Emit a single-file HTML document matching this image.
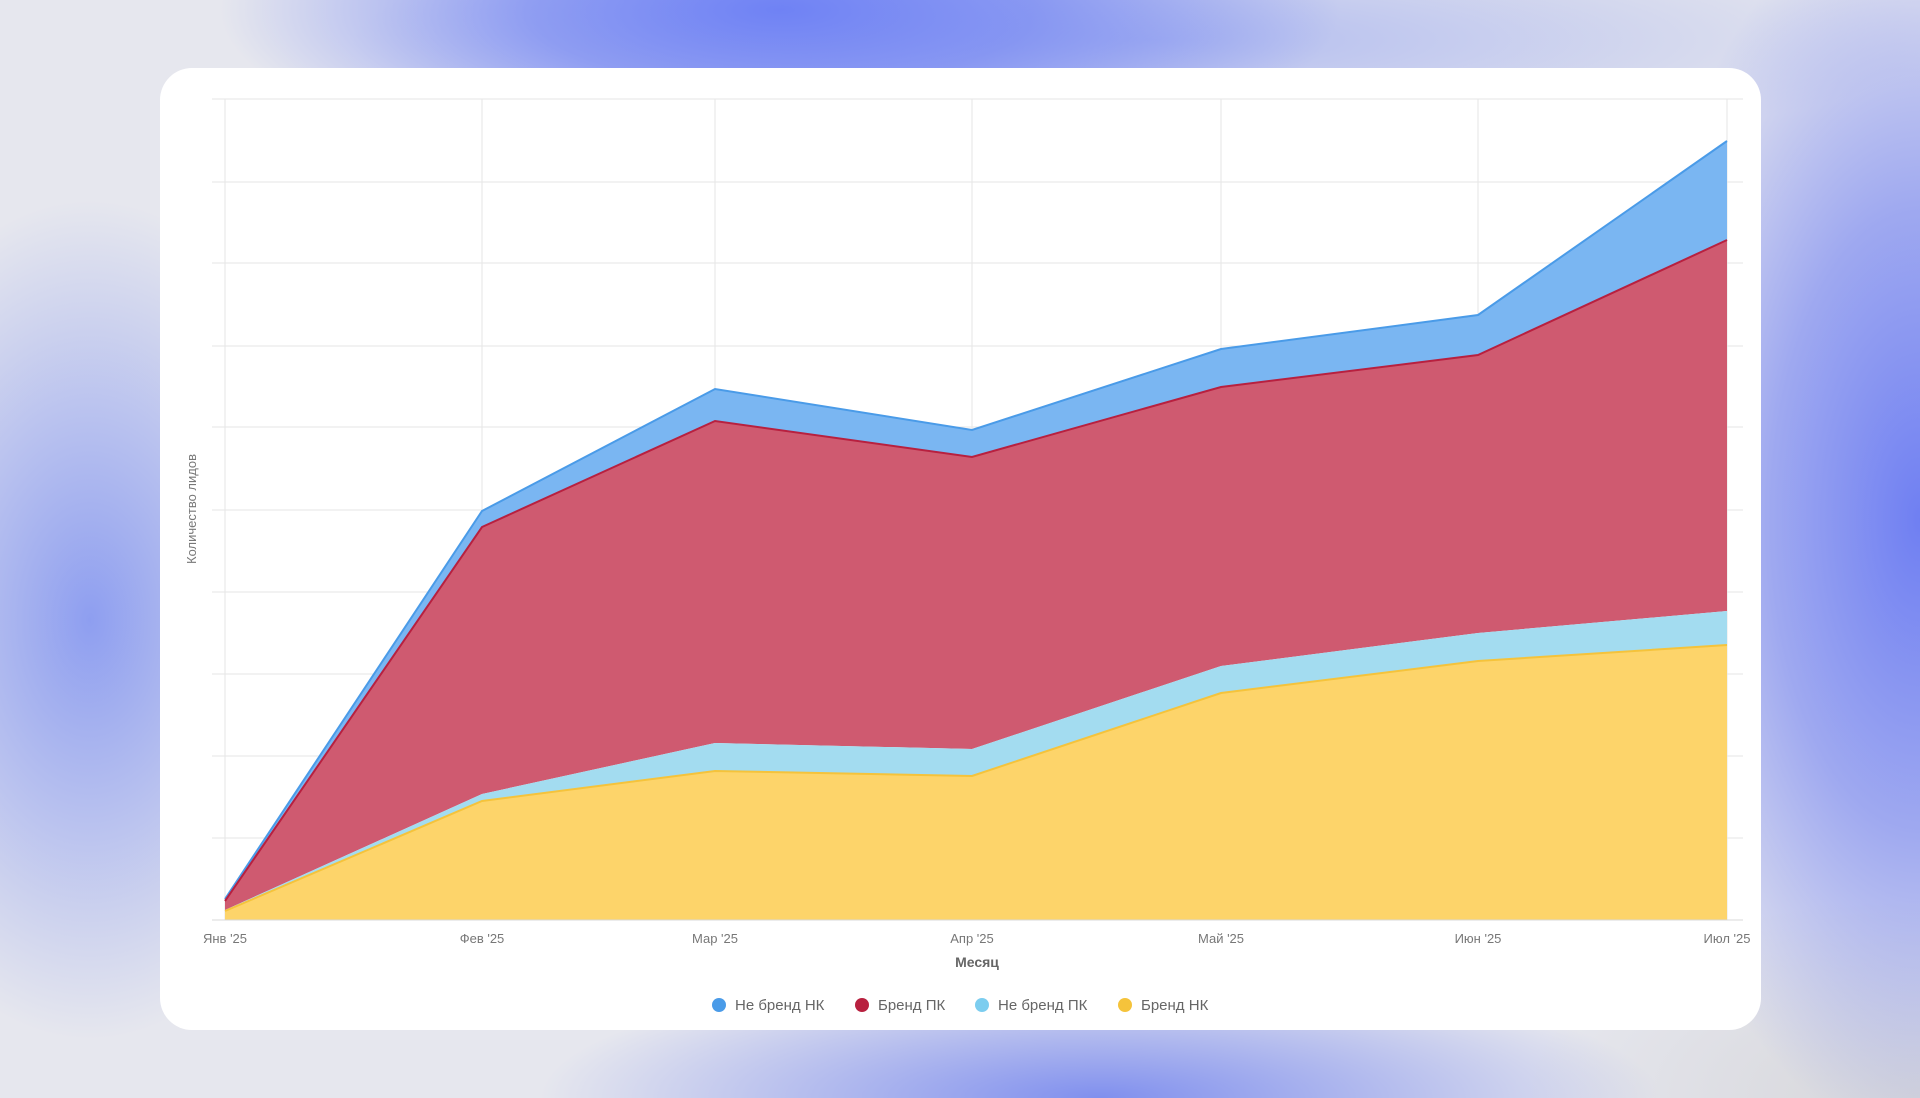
<!DOCTYPE html>
<html><head><meta charset="utf-8"><style>
html,body{margin:0;padding:0;width:1920px;height:1098px;overflow:hidden;}
body{background:#e6e7ee;position:relative;font-family:"Liberation Sans","DejaVu Sans",sans-serif;}
.bg{position:absolute;inset:0;
background:
radial-gradient(ellipse 560px 170px at 780px 10px,#6f82f4 0%,rgba(111,130,244,0.7) 45%,rgba(111,130,244,0) 100%),
radial-gradient(ellipse 300px 620px at 1920px 520px,#6f7ff2 0%,rgba(111,127,242,0.6) 50%,rgba(111,127,242,0) 100%),
radial-gradient(ellipse 260px 420px at 90px 620px,rgba(120,140,240,0.8) 0%,rgba(120,140,240,0) 100%),
radial-gradient(ellipse 560px 130px at 1100px 1098px,rgba(110,128,238,0.85) 0%,rgba(110,128,238,0) 100%),
radial-gradient(ellipse 800px 120px at 1150px 40px,rgba(150,165,240,0.65) 0%,rgba(150,165,240,0) 100%),
radial-gradient(ellipse 400px 200px at 1920px 1098px,#d6d6da 0%,rgba(214,214,218,0) 100%),
#e6e7ee;}
.card{position:absolute;left:160px;top:68px;width:1601px;height:962px;background:#fff;border-radius:32px;}
svg{position:absolute;left:0;top:0;}
</style></head><body>
<div class="bg"></div>
<div class="card"></div>
<svg width="1920" height="1098" viewBox="0 0 1920 1098">
<g stroke="#e6e6e6" stroke-width="1">
<line x1="212" x2="1743" y1="99" y2="99"/><line x1="212" x2="1743" y1="182" y2="182"/>
<line x1="212" x2="1743" y1="263" y2="263"/><line x1="212" x2="1743" y1="346" y2="346"/>
<line x1="212" x2="1743" y1="427" y2="427"/><line x1="212" x2="1743" y1="510" y2="510"/>
<line x1="212" x2="1743" y1="592" y2="592"/><line x1="212" x2="1743" y1="674" y2="674"/>
<line x1="212" x2="1743" y1="756" y2="756"/><line x1="212" x2="1743" y1="838" y2="838"/>
<line x1="225" x2="225" y1="99" y2="920"/><line x1="482" x2="482" y1="99" y2="920"/>
<line x1="715" x2="715" y1="99" y2="920"/><line x1="972" x2="972" y1="99" y2="920"/>
<line x1="1221" x2="1221" y1="99" y2="920"/><line x1="1478" x2="1478" y1="99" y2="920"/>
<line x1="1727" x2="1727" y1="99" y2="920"/>
</g>
<polygon fill="#7ab6f2" points="225,899 482,511 715,389 972,430 1221,349 1478,315 1727,141 1727,240 1478,355 1221,387 972,457 715,421 482,527 225,902"/>
<polyline fill="none" stroke="#4a9be8" stroke-width="2" points="225,899 482,511 715,389 972,430 1221,349 1478,315 1727,141"/>
<polygon fill="#cf5a70" points="225,901 482,527 715,421 972,457 1221,387 1478,355 1727,240 1727,611 1478,633 1221,666 972,749 715,743 482,794 225,910"/>
<polyline fill="none" stroke="#b8203f" stroke-width="2" points="225,901 482,527 715,421 972,457 1221,387 1478,355 1727,240"/>
<polygon fill="#a3dcf0" points="225,910 482,794 715,743 972,749 1221,666 1478,633 1727,611 1727,645 1478,661 1221,693 972,776 715,771 482,801 225,912"/>
<polygon fill="#fdd46a" points="225,911 482,801 715,771 972,776 1221,693 1478,661 1727,645 1727,920 225,920"/>
<polyline fill="none" stroke="#f5c33b" stroke-width="2" points="225,911 482,801 715,771 972,776 1221,693 1478,661 1727,645"/>
<line x1="212" x2="1743" y1="920" y2="920" stroke="#d8d8d8"/>
<g font-size="13" fill="#777" text-anchor="middle">
<text x="225" y="943">Янв '25</text><text x="482" y="943">Фев '25</text>
<text x="715" y="943">Мар '25</text><text x="972" y="943">Апр '25</text>
<text x="1221" y="943">Май '25</text><text x="1478" y="943">Июн '25</text>
<text x="1727" y="943">Июл '25</text>
</g>
<text x="977" y="967" font-size="14" font-weight="bold" fill="#666" text-anchor="middle">Месяц</text>
<text transform="translate(196,509) rotate(-90)" font-size="13" fill="#777" text-anchor="middle">Количество лидов</text>
<g font-size="15" fill="#666">
<circle cx="719" cy="1005" r="7" fill="#4a9be8"/><text x="735" y="1010">Не бренд НК</text>
<circle cx="862" cy="1005" r="7" fill="#b8203f"/><text x="878" y="1010">Бренд ПК</text>
<circle cx="982" cy="1005" r="7" fill="#7ccdef"/><text x="998" y="1010">Не бренд ПК</text>
<circle cx="1125" cy="1005" r="7" fill="#f5c33b"/><text x="1141" y="1010">Бренд НК</text>
</g>
</svg>
</body></html>
